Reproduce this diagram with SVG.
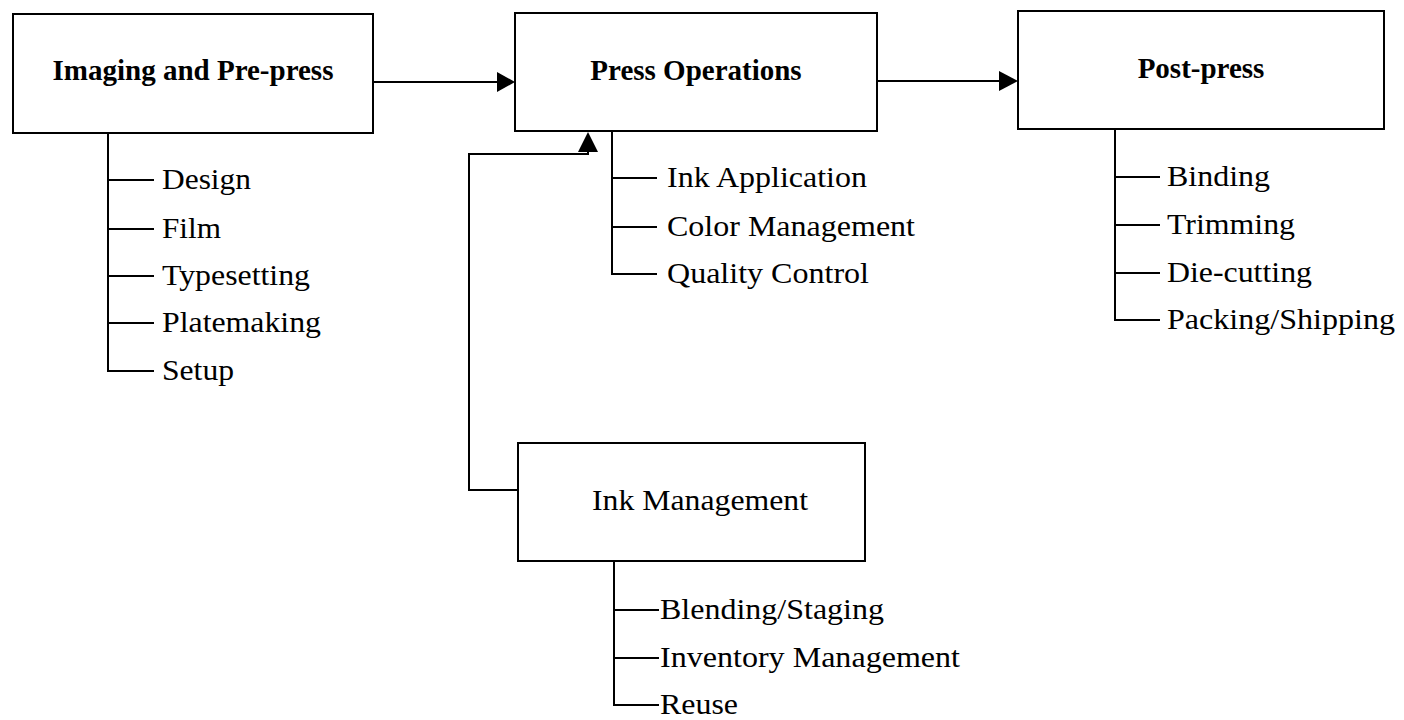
<svg xmlns="http://www.w3.org/2000/svg" width="1404" height="720" viewBox="0 0 1404 720">
<style>
.box{fill:#fff;stroke:#000;stroke-width:2}
.ln{fill:none;stroke:#000;stroke-width:2}
.ah{fill:#000;stroke:none}
.t{font-family:"Liberation Serif","Times New Roman",serif;fill:#000}
.tb{font-size:29px;font-weight:bold}
.ti{font-size:30px}
</style>
<rect width="1404" height="720" fill="#fff"/>
<g id="connectors">
<path class="ln" d="M373 82 H499"/>
<polygon class="ah" points="497,72 515,82 497,92"/>
<path class="ln" d="M877 81 H1001"/>
<polygon class="ah" points="999,71 1018,81 999,91"/>
<path class="ln" d="M518 490 H469 V154 H588 V150"/>
<polygon class="ah" points="578,152 588,132 598,152"/>
</g>
<g id="node-imaging">
<rect class="box" x="13" y="14" width="360" height="119"/>
<text class="t tb" x="193" y="80" text-anchor="middle">Imaging and Pre-press</text>
<path class="ln" d="M108 133 V371 H154 M108 180 H154 M108 229 H154 M108 276 H154 M108 323 H154"/>
<text class="t ti" x="162" y="189" textLength="89" lengthAdjust="spacingAndGlyphs">Design</text>
<text class="t ti" x="162" y="238" textLength="59" lengthAdjust="spacingAndGlyphs">Film</text>
<text class="t ti" x="162" y="285" textLength="148" lengthAdjust="spacingAndGlyphs">Typesetting</text>
<text class="t ti" x="162" y="332" textLength="159" lengthAdjust="spacingAndGlyphs">Platemaking</text>
<text class="t ti" x="162" y="380" textLength="72" lengthAdjust="spacingAndGlyphs">Setup</text>
</g>
<g id="node-press">
<rect class="box" x="515" y="13" width="362" height="118"/>
<text class="t tb" x="696" y="80" text-anchor="middle">Press Operations</text>
<path class="ln" d="M612 131 V274 H657 M612 178 H657 M612 227 H657"/>
<text class="t ti" x="667" y="187" textLength="200" lengthAdjust="spacingAndGlyphs">Ink Application</text>
<text class="t ti" x="667" y="236" textLength="248" lengthAdjust="spacingAndGlyphs">Color Management</text>
<text class="t ti" x="667" y="283" textLength="202" lengthAdjust="spacingAndGlyphs">Quality Control</text>
</g>
<g id="node-postpress">
<rect class="box" x="1018" y="11" width="366" height="118"/>
<text class="t tb" x="1201" y="78" text-anchor="middle">Post-press</text>
<path class="ln" d="M1115 129 V320 H1160 M1115 177 H1160 M1115 225 H1160 M1115 273 H1160"/>
<text class="t ti" x="1167" y="186" textLength="103" lengthAdjust="spacingAndGlyphs">Binding</text>
<text class="t ti" x="1167" y="234" textLength="128" lengthAdjust="spacingAndGlyphs">Trimming</text>
<text class="t ti" x="1167" y="282" textLength="145" lengthAdjust="spacingAndGlyphs">Die-cutting</text>
<text class="t ti" x="1167" y="329" textLength="228" lengthAdjust="spacingAndGlyphs">Packing/Shipping</text>
</g>
<g id="node-ink">
<rect class="box" x="518" y="443" width="347" height="118"/>
<text class="t ti" x="592" y="510" textLength="216" lengthAdjust="spacingAndGlyphs">Ink Management</text>
<path class="ln" d="M614 561 V705 H659 M614 610 H659 M614 658 H659"/>
<text class="t ti" x="660" y="619" textLength="224" lengthAdjust="spacingAndGlyphs">Blending/Staging</text>
<text class="t ti" x="660" y="667" textLength="300" lengthAdjust="spacingAndGlyphs">Inventory Management</text>
<text class="t ti" x="660" y="714" textLength="78" lengthAdjust="spacingAndGlyphs">Reuse</text>
</g>
</svg>
